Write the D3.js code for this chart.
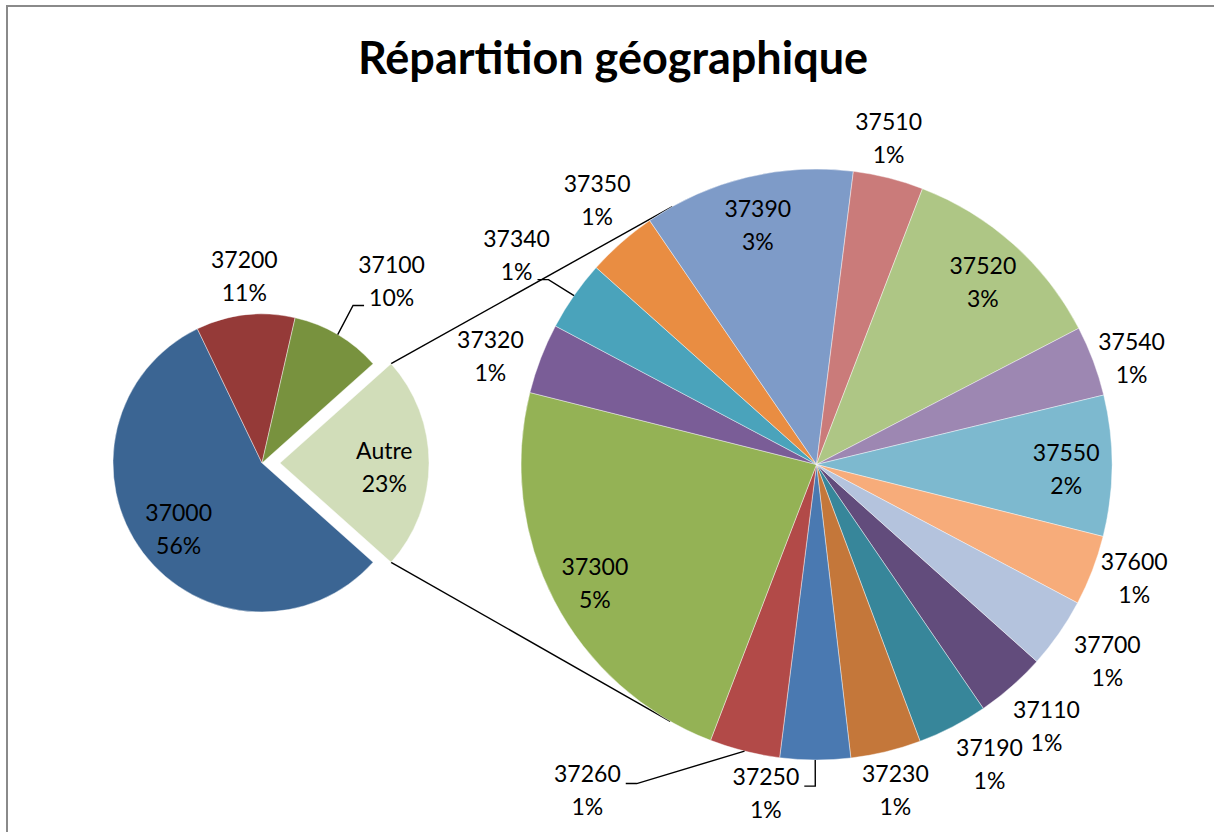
<!DOCTYPE html>
<html>
<head>
<meta charset="utf-8">
<title>Répartition géographique</title>
<script src="https://cdnjs.cloudflare.com/ajax/libs/d3/7.8.5/d3.min.js"></script>
<style>
  body { margin: 0; background: #fff; }
  svg { display: block; font-family: Lato, "Open Sans", sans-serif; }
</style>
</head>
<body>
<script>
// main pie: the big postcodes, the rest is grouped in "Autre"
var mainCats = ["37000", "37200", "37100"];
var mainVals = [63, 12, 11];
var mainColors = ["#3b6593", "#953a38", "#78923e"];
var otherName = "Autre";
var otherColor = "#d1ddb9";

// second pie: detail of "Autre"
var subCats = ["37110", "37190", "37230", "37250", "37260", "37300", "37320", "37340",
               "37350", "37390", "37510", "37520", "37540", "37550", "37600", "37700"];
var subVals = [1, 1, 1, 1, 1, 6, 1, 1, 1, 3, 1, 3, 1, 2, 1, 1];
var subColors = ["#624c7c", "#37869a", "#c4773a", "#4a79b1", "#b24a48", "#94b255", "#7a5d97", "#4aa3bb",
                 "#e98d42", "#7e9bc8", "#ca7b7a", "#aec685", "#9d87b2", "#7db9cf", "#f7ac7a", "#b4c3dd"];

var W = 1214, H = 832;
var mainC = [262, 463], mainR = 149, explode = 18;
var subC = [816.5, 464.5], subR = 295.5;
var TAU = Math.PI * 2;
var rad = Math.PI / 180;

// outside label placement as Excel laid it out: [angle shift deg, px beyond rim]
var labelShift = {
  "37200": [1, 38], "37100": [5, 74],
  "37110": [0, 53], "37190": [-2.5, 51], "37230": [0, 40], "37250": [8.5, 37],
  "37260": [21, 103], "37320": [-2.7, 48], "37340": [0, 70], "37350": [1.6, 48],
  "37510": [-1.6, 38], "37540": [1.9, 37], "37600": [-1.3, 42], "37700": [-0.7, 56]
};
var withLeader = ["37100", "37260", "37250", "37340"];

var otherTotal = d3.sum(subVals);
var grand = d3.sum(mainVals) + otherTotal;
var otherSpan = otherTotal / grand * TAU;
var start = Math.PI / 2 + otherSpan / 2;

var mainData = mainCats.map(function(c, i) { return {cat: c, v: mainVals[i], color: mainColors[i]}; });
mainData.push({cat: otherName, v: otherTotal, color: otherColor, other: true});
var subData = subCats.map(function(c, i) { return {cat: c, v: subVals[i], color: subColors[i]}; });

var pie = d3.pie().sort(null).value(function(d) { return d.v; })
  .startAngle(start).endAngle(start + TAU);

var mainArcs = pie(mainData);
var subArcs = pie(subData);

function polar(c, r, a) { return [c[0] + r * Math.sin(a), c[1] - r * Math.cos(a)]; }
function pct(v) { return Math.round(v / grand * 100) + "%"; }

var svg = d3.select("body").append("svg").attr("width", W).attr("height", H);

// chart frame
svg.append("rect")
  .attr("x", 7).attr("y", 6).attr("width", W + 50).attr("height", H + 50)
  .attr("fill", "none").attr("stroke", "#8a8a8a").attr("stroke-width", 2);

svg.append("text")
  .attr("x", 613).attr("y", 74)
  .attr("text-anchor", "middle")
  .style("font-weight", "bold").style("font-size", "45px")
  .text("Répartition géographique");

// centres of each slice (Autre is pulled out)
mainArcs.forEach(function(d) {
  var mid = (d.startAngle + d.endAngle) / 2;
  var off = d.data.other ? explode : 0;
  d.c = [mainC[0] + off * Math.sin(mid), mainC[1] - off * Math.cos(mid)];
  d.r = mainR;
  d.inF = 0.7; d.outGap = 38;
});
subArcs.forEach(function(d) {
  d.c = subC; d.r = subR; d.inF = 0.845; d.outGap = 46;
});

// connector lines: tangents from Autre corners to the second pie
var autre = mainArcs[mainArcs.length - 1];
[autre.startAngle, autre.endAngle].forEach(function(a) {
  var p = polar(autre.c, autre.r, a);
  var vx = p[0] - subC[0], vy = p[1] - subC[1];
  var dist = Math.sqrt(vx * vx + vy * vy);
  var th = Math.atan2(vy, vx), al = Math.acos(subR / dist);
  var t1 = [subC[0] + subR * Math.cos(th + al), subC[1] + subR * Math.sin(th + al)];
  var t2 = [subC[0] + subR * Math.cos(th - al), subC[1] + subR * Math.sin(th - al)];
  var up = p[1] < mainC[1];
  var t = up ? (t1[1] < t2[1] ? t1 : t2) : (t1[1] > t2[1] ? t1 : t2);
  svg.append("line")
    .attr("x1", p[0]).attr("y1", p[1]).attr("x2", t[0]).attr("y2", t[1])
    .attr("stroke", "#000").attr("stroke-width", 1.4);
});

var all = mainArcs.concat(subArcs);

svg.append("g").selectAll("path")
  .data(all)
  .enter().append("path")
  .attr("transform", function(d) { return "translate(" + d.c[0] + "," + d.c[1] + ")"; })
  .attr("d", function(d) { return d3.arc().innerRadius(0).outerRadius(d.r)(d); })
  .attr("fill", function(d) { return d.data.color; })
  .attr("stroke", "#fff").attr("stroke-width", 0.6).attr("stroke-opacity", 0.7);

// data labels
var LH = 33;
var labels = svg.append("g").style("font-size", "23px").attr("fill", "#000");

all.forEach(function(d) {
  var mid = (d.startAngle + d.endAngle) / 2;
  var span = d.endAngle - d.startAngle;
  var shift = labelShift[d.data.cat];
  var pos;
  if (shift) {
    pos = polar(d.c, d.r + shift[1], mid + shift[0] * rad);
  } else if (span * d.r > 120) {
    pos = polar(d.c, d.r * d.inF, mid);
    pos[1] += 4;
  } else {
    pos = polar(d.c, d.r + d.outGap, mid);
  }
  var t = labels.append("text").attr("text-anchor", "middle");
  var l1 = t.append("tspan").attr("x", pos[0]).attr("y", pos[1] - LH / 2 + 8).text(d.data.cat);
  var l2 = t.append("tspan").attr("x", pos[0]).attr("y", pos[1] + LH / 2 + 8).text(pct(d.data.v));

  if (withLeader.indexOf(d.data.cat) >= 0) {
    var e = polar(d.c, d.r, mid);
    var yy = Math.max(pos[1] - 7, Math.min(pos[1] + 24, e[1]));
    var line = yy < pos[1] + 8 ? l1 : l2;
    var hw = line.node().getComputedTextLength() / 2 + 5;
    var dir = e[0] > pos[0] ? 1 : -1;
    var sx = pos[0] + dir * hw;
    var bx = sx + dir * 11;
    svg.append("polyline")
      .attr("points", [[sx, yy], [bx, yy], e].map(function(p) { return p.join(","); }).join(" "))
      .attr("fill", "none").attr("stroke", "#000").attr("stroke-width", 1.4);
  }
});
</script>
</body>
</html>
